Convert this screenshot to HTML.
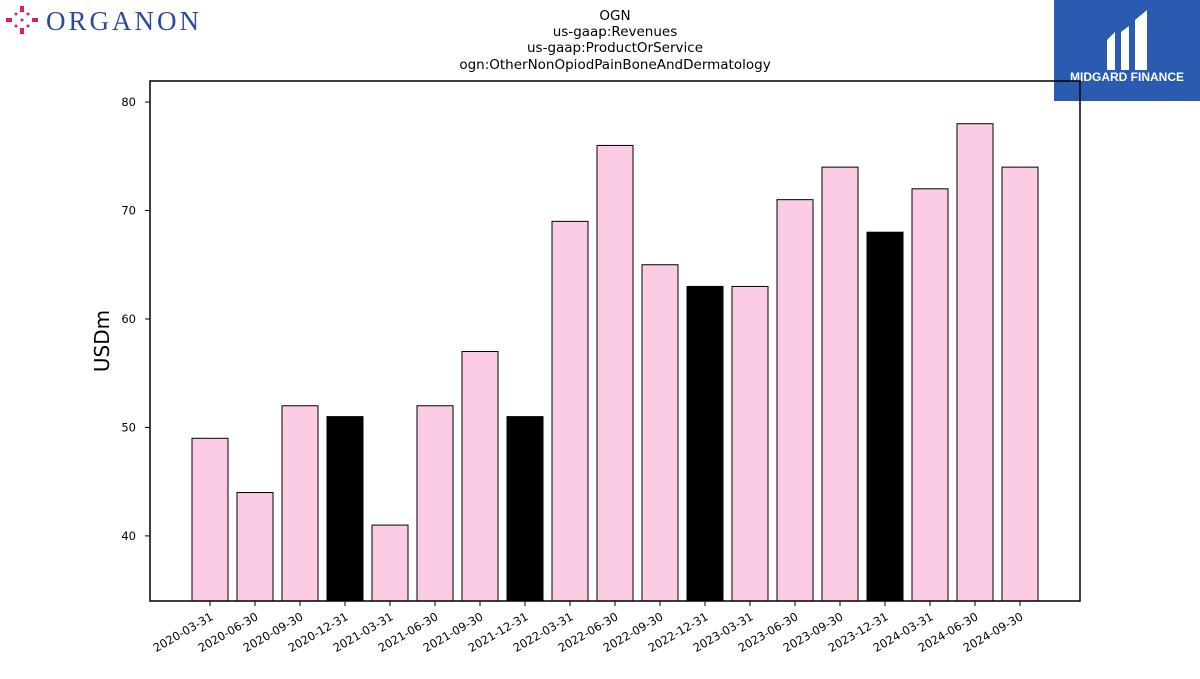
<!DOCTYPE html>
<html><head><meta charset="utf-8"><style>
body{margin:0;background:#fff;width:1200px;height:675px;overflow:hidden;font-family:"DejaVu Sans","Liberation Sans",sans-serif;}
</style></head><body>
<svg width="1200" height="675" xmlns="http://www.w3.org/2000/svg">
<g>
<g fill="#e0196e">
<rect x="20" y="6" width="4" height="6"/><rect x="20" y="28" width="4" height="6"/>
<rect x="6" y="18" width="6" height="4"/><rect x="32" y="18" width="6" height="4"/>
<circle cx="16" cy="14" r="1.5"/><circle cx="28" cy="14" r="1.5"/><circle cx="16" cy="26" r="1.5"/><circle cx="28" cy="26" r="1.5"/>
<circle cx="22" cy="20" r="1.5"/>
</g>
<text x="46" y="30" font-family="Liberation Serif,serif" font-size="27" fill="#2a4aa0" letter-spacing="3">ORGANON</text>
</g>
<g font-size="13.5" text-anchor="middle" fill="#000">
<text x="615" y="20">OGN</text>
<text x="615" y="36">us-gaap:Revenues</text>
<text x="615" y="52">us-gaap:ProductOrService</text>
<text x="615" y="69">ogn:OtherNonOpiodPainBoneAndDermatology</text>
</g>
<g>
<rect x="1054" y="0" width="146" height="101" fill="#2b5bb0"/>
<path d="M1107 40 L1115 32 L1115 70 L1107 70 Z M1121 32 L1129 26 L1129 70 L1121 70 Z M1135 20 L1147 10 L1147 70 L1135 70 Z" fill="#fff"/>
<text x="1127" y="81" font-size="12" font-weight="bold" fill="#fff" text-anchor="middle" font-family="Liberation Sans,sans-serif">MIDGARD FINANCE</text>
</g>
<text x="109" y="341" font-size="20" text-anchor="middle" transform="rotate(-90 109 341)">USDm</text>
<g id="plot"></g>
<rect x="150" y="81" width="930" height="520" fill="none" stroke="#000" stroke-width="1.5"/>
</svg>
<script>
const categories=["2020-03-31","2020-06-30","2020-09-30","2020-12-31","2021-03-31","2021-06-30","2021-09-30","2021-12-31","2022-03-31","2022-06-30","2022-09-30","2022-12-31","2023-03-31","2023-06-30","2023-09-30","2023-12-31","2024-03-31","2024-06-30","2024-09-30"];
const values=[49,44,52,51,41,52,57,51,69,76,65,63,63,71,74,68,72,78,74];
const yTicks=[40,50,60,70,80];
const NS="http://www.w3.org/2000/svg";
const g=document.getElementById('plot');
const yMin=34.0,yMax=81.94,yTop=81,yBot=601;
function sy(v){return yBot-(v-yMin)/(yMax-yMin)*(yBot-yTop);}
function sx(i){return 210+i*45;}
function mk(t,a){const e=document.createElementNS(NS,t);for(const k in a)e.setAttribute(k,a[k]);g.appendChild(e);return e;}
yTicks.forEach(t=>{
const l=mk('line',{x1:145,x2:150,y1:sy(t),y2:sy(t),stroke:'#000'});


const s=mk('text',{x:136,y:sy(t)+4,'font-size':11.5,'text-anchor':'end'});
s.textContent=t;


});
categories.forEach((c,i)=>{
const v=values[i];
const black=c.endsWith('12-31');
const r=mk('rect',{x:sx(i)-18,y:sy(v),width:36,height:yBot-sy(v),fill:black?'#000':'#fccbe4',stroke:'#000','stroke-width':1});


const l=mk('line',{x1:sx(i),x2:sx(i),y1:yBot,y2:yBot+5,stroke:'#000'});


const t=mk('text',{x:sx(i)+4,y:yBot+18,'font-size':11.5,'text-anchor':'end',transform:`rotate(-30 ${sx(i)+4} ${yBot+18})`});
t.textContent=c;


});
</script>
</body></html>
